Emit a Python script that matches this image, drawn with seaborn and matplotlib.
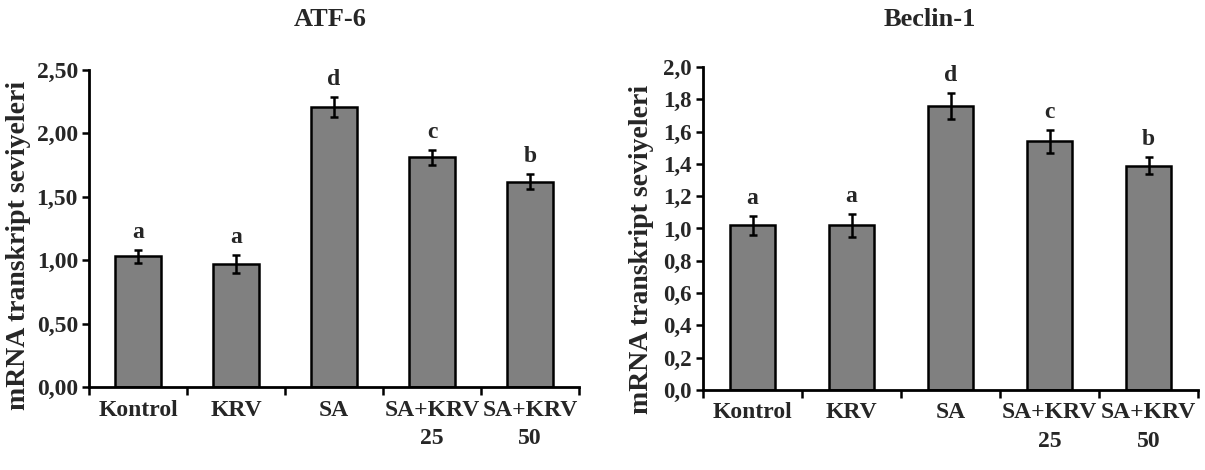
import numpy as np
import pandas as pd
import matplotlib
matplotlib.use("Agg")
import matplotlib.pyplot as plt
import seaborn as sns
from matplotlib.ticker import FixedLocator, FuncFormatter

categories = ["Kontrol", "KRV", "SA", "SA+KRV\n25", "SA+KRV\n50"]
atf6_values = [1.03, 0.97, 2.21, 1.81, 1.62]
atf6_errors = [0.05, 0.07, 0.08, 0.06, 0.06]
atf6_letters = ["a", "a", "d", "c", "b"]
beclin_values = [1.02, 1.02, 1.76, 1.54, 1.39]
beclin_errors = [0.06, 0.07, 0.08, 0.07, 0.05]
beclin_letters = ["a", "a", "d", "c", "b"]
ylabel = "mRNA transkript seviyeleri"

sns.set_style("ticks")
plt.rcParams['font.family'] = ['Liberation Serif', 'DejaVu Serif']
plt.rcParams['font.weight'] = 'bold'

fig = plt.figure(figsize=(12.05, 4.70), dpi=100)
W, H = 1205, 470

def make_ax(x0, x1, ytop, ybot):
    return fig.add_axes([x0 / W, 1 - ybot / H, (x1 - x0) / W, (ybot - ytop) / H])

ax1 = make_ax(89, 579, 70, 387)
ax2 = make_ax(703, 1198, 67, 390)

def draw(ax, values, errors, letters, ymax, ystep, fmt, ytick_size):
    df = pd.DataFrame({"group": categories, "value": values})
    sns.barplot(data=df, x="group", y="value", ax=ax, color="#808080",
                saturation=1, width=0.46, edgecolor="black", linewidth=1.8,
                errorbar=None)
    x = np.arange(len(categories))
    ax.errorbar(x, values, yerr=errors, fmt="none", ecolor="black",
                elinewidth=1.8, capsize=3, capthick=1.8)
    for xi, v, e, l in zip(x, values, errors, letters):
        ax.annotate(l, (xi, v + e), xytext=(0, 5), textcoords="offset points",
                    ha="center", va="bottom", fontsize=17, fontweight="bold")
    ax.set_xlim(-0.5, len(categories) - 0.5)
    ax.set_ylim(0, ymax)
    ax.set_yticks(np.arange(0, ymax + 1e-9, ystep))
    ax.yaxis.set_major_formatter(FuncFormatter(lambda v, p: fmt.format(v).replace(".", ",")))
    ax.xaxis.set_minor_locator(FixedLocator(np.arange(-0.5, len(categories), 1.0)))
    ax.tick_params(axis="x", which="major", length=0, pad=9, labelsize=17)
    ax.tick_params(axis="x", which="minor", length=6, width=1.8, direction="out", color="black")
    ax.tick_params(axis="y", length=5, width=1.8, direction="out", color="black",
                   labelsize=ytick_size, pad=3)
    for lab in ax.get_xticklabels():
        lab.set_fontweight("bold")
        lab.set_linespacing(1.45)
    for lab in ax.get_yticklabels():
        lab.set_fontweight("bold")
    ax.set_xlabel("")
    ax.set_ylabel("")
    for s in ["top", "right"]:
        ax.spines[s].set_visible(False)
    for s in ["left", "bottom"]:
        ax.spines[s].set_linewidth(2)
        ax.spines[s].set_color("black")

draw(ax1, atf6_values, atf6_errors, atf6_letters, 2.5, 0.5, "{:.2f}", 17)
draw(ax2, beclin_values, beclin_errors, beclin_letters, 2.0, 0.2, "{:.1f}", 16.5)

fig.text(330 / W, 1 - 20 / H, "ATF-6", ha="center", va="center", fontsize=19, fontweight="bold")
fig.text(930 / W, 1 - 20 / H, "Beclin-1", ha="center", va="center", fontsize=19, fontweight="bold")
fig.text(19 / W, 1 - 245 / H, ylabel, rotation=90, ha="center", va="center", fontsize=20, fontweight="bold")
fig.text(641 / W, 1 - 249 / H, ylabel, rotation=90, ha="center", va="center", fontsize=20, fontweight="bold")

fig.savefig("out.png", dpi=100, facecolor="white")
